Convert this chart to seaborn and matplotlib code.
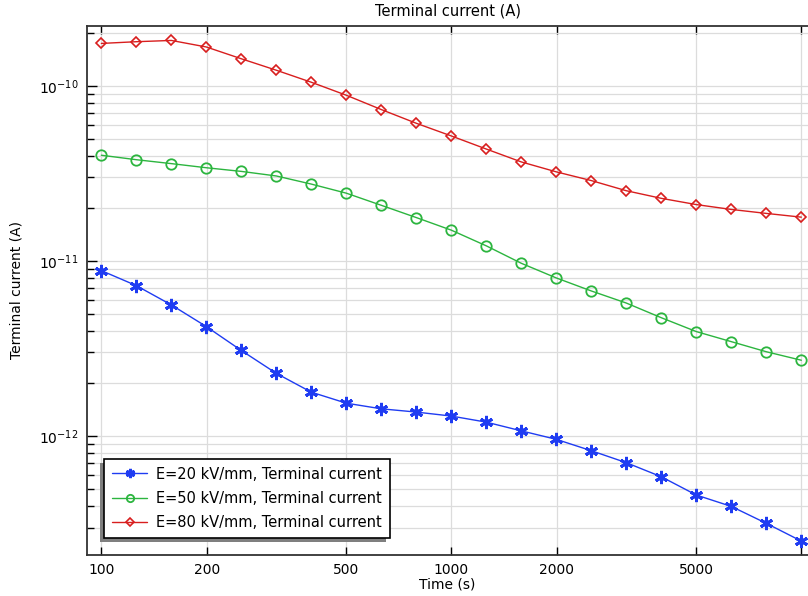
import numpy as np
import pandas as pd
import matplotlib
matplotlib.use('Agg')
import matplotlib.pyplot as plt
import seaborn as sns
from matplotlib.patches import Rectangle
from matplotlib.ticker import (FixedLocator, NullLocator, NullFormatter,
                               LogLocator, LogFormatterMathtext)

# time points (s)
time_s = [100, 125.9, 158.5, 199.5, 251.2, 316.2, 398.1, 501.2, 631.0, 794.3,
          1000, 1259, 1585, 1995, 2512, 3162, 3981, 5012, 6310, 7943, 10000]

# terminal current (A)
i_20 = [8.81e-12, 7.23e-12, 5.61e-12, 4.22e-12, 3.08e-12, 2.28e-12, 1.78e-12,
        1.54e-12, 1.43e-12, 1.37e-12, 1.30e-12, 1.20e-12, 1.07e-12, 9.57e-13,
        8.24e-13, 7.04e-13, 5.85e-13, 4.60e-13, 3.96e-13, 3.17e-13, 2.51e-13]
i_50 = [4.02e-11, 3.79e-11, 3.60e-11, 3.41e-11, 3.25e-11, 3.06e-11, 2.75e-11,
        2.44e-11, 2.08e-11, 1.77e-11, 1.50e-11, 1.22e-11, 9.70e-12, 8.00e-12,
        6.74e-12, 5.75e-12, 4.74e-12, 3.95e-12, 3.46e-12, 3.03e-12, 2.71e-12]
i_80 = [1.75e-10, 1.79e-10, 1.82e-10, 1.67e-10, 1.43e-10, 1.23e-10, 1.05e-10,
        8.85e-11, 7.33e-11, 6.12e-11, 5.18e-11, 4.36e-11, 3.68e-11, 3.23e-11,
        2.88e-11, 2.52e-11, 2.28e-11, 2.10e-11, 1.97e-11, 1.87e-11, 1.78e-11]

labels = ['E=20 kV/mm, Terminal current', 'E=50 kV/mm, Terminal current',
          'E=80 kV/mm, Terminal current']
colors = ['#1f3cf2', '#2cb53f', '#d81e1e']

sns.set_style('white')
plt.rcParams['font.family'] = ['DejaVu Sans']
plt.rcParams['font.size'] = 10
plt.rcParams['text.color'] = 'black'
plt.rcParams['axes.labelcolor'] = 'black'
plt.rcParams['xtick.color'] = 'black'
plt.rcParams['ytick.color'] = 'black'

fig = plt.figure(figsize=(8.08, 5.96), dpi=100)
ax = fig.add_axes([0.1077, 0.0688, 0.8923, 0.8881])

styles = [dict(marker=(6, 2, 0), markersize=9.5, markeredgewidth=2.1),
          dict(marker='o', markersize=7.5, markerfacecolor='none', markeredgewidth=1.3),
          dict(marker='D', markersize=5.5, markerfacecolor='none', markeredgewidth=1.2)]
for vals, lab, col, st in zip([i_20, i_50, i_80], labels, colors, styles):
    df = pd.DataFrame({'t': time_s, 'i': vals})
    sns.lineplot(data=df, x='t', y='i', ax=ax, color=col, linewidth=1.0,
                 markeredgecolor=col, label=lab, **st)

ax.set_xscale('log')
ax.set_yscale('log')
ax.set_xlim(91.0, 10450)
ax.set_ylim(2.09e-13, 2.21e-10)

ax.xaxis.set_major_locator(FixedLocator([100, 200, 500, 1000, 2000, 5000, 10000]))
ax.set_xticklabels(['100', '200', '500', '1000', '2000', '5000', ''])
ax.xaxis.set_minor_locator(NullLocator())
ax.xaxis.set_minor_formatter(NullFormatter())
ax.yaxis.set_major_locator(LogLocator(base=10))
ax.yaxis.set_major_formatter(LogFormatterMathtext())
ax.yaxis.set_minor_locator(LogLocator(base=10, subs=np.arange(2, 10)))
ax.yaxis.set_minor_formatter(NullFormatter())
ax.xaxis.get_offset_text().set_visible(False)
ax.yaxis.get_offset_text().set_visible(False)

ax.grid(True, which='major', color='#dcdcdc', linewidth=0.9)
ax.grid(True, which='minor', axis='y', color='#dcdcdc', linewidth=0.9)
ax.set_axisbelow(True)

ax.tick_params(axis='x', which='both', direction='in', top=True, bottom=True,
               length=6, width=1, labelsize=10, pad=6)
ax.tick_params(axis='y', which='major', direction='in', left=True, right=False,
               length=7, width=1, labelsize=10, pad=6)
ax.tick_params(axis='y', which='minor', direction='in', left=True, right=False,
               length=5, width=1)

for s in ['left', 'top', 'bottom']:
    ax.spines[s].set_color('#333333')
    ax.spines[s].set_linewidth(1.3)
ax.spines['right'].set_visible(False)

ax.set_title('Terminal current (A)', fontsize=10.5, pad=7)
ax.set_xlabel('Time (s)', fontsize=10, labelpad=0)
ax.set_ylabel('Terminal current (A)', fontsize=10, labelpad=11)

leg = ax.legend(loc='lower left', bbox_to_anchor=(0.0236, 0.0327), borderaxespad=0,
                fancybox=False, frameon=True, edgecolor='black', framealpha=1,
                fontsize=10.5, handlelength=2.4, markerscale=0.7,
                borderpad=0.55, labelspacing=0.62, handletextpad=0.6)
leg.get_frame().set_linewidth(1.2)

# drop shadow down-left of the legend
fig.canvas.draw()
bb = leg.get_window_extent()
shadow = Rectangle((bb.x0 - 4, bb.y0 - 4), bb.width, bb.height, transform=None,
                   facecolor='#7f7f7f', edgecolor='none', zorder=4.9)
ax.add_artist(shadow)

fig.savefig('out.png', dpi=100)
